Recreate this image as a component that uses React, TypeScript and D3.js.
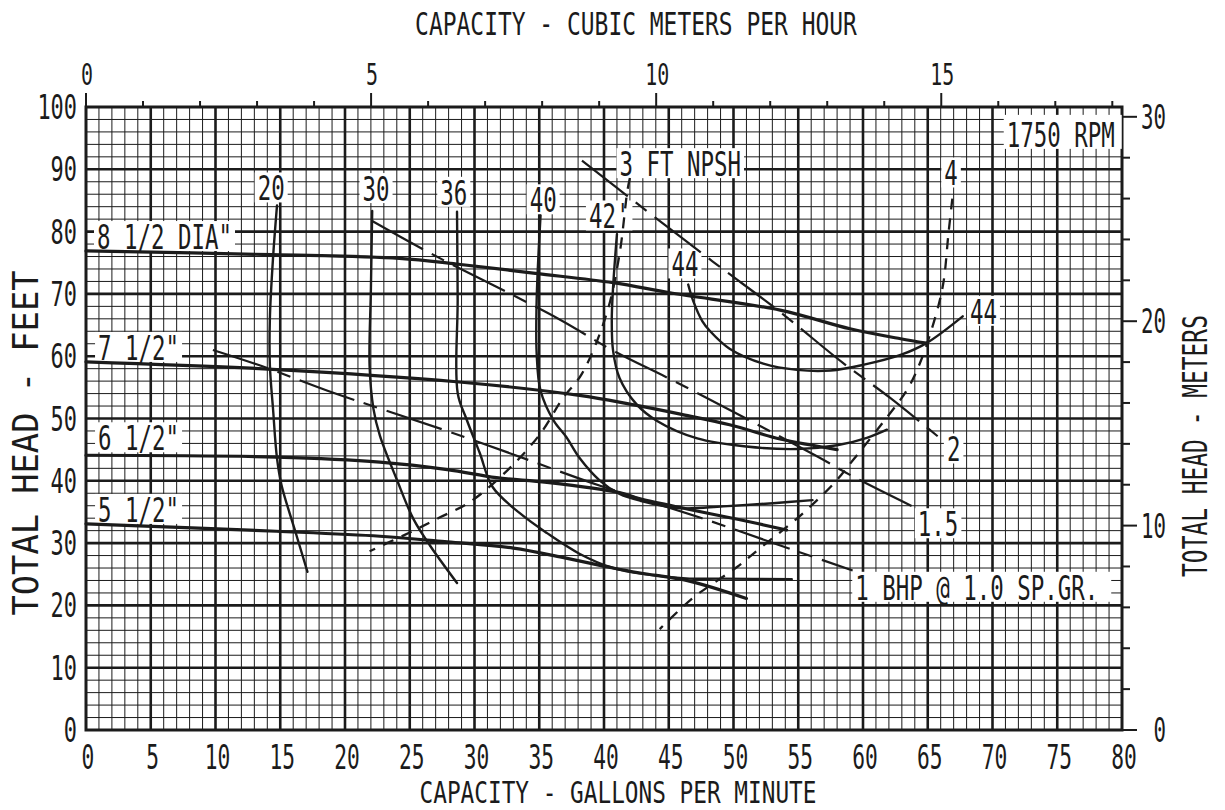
import * as d3 from "d3";

type Pt = [number, number];

// ── Axis tick labels ────────────────────────────────────────────────
const gpmTicks = [0, 5, 10, 15, 20, 25, 30, 35, 40, 45, 50, 55, 60, 65, 70, 75, 80];
const feetTicks = [0, 10, 20, 30, 40, 50, 60, 70, 80, 90, 100];
const meterTicks = [0, 10, 20, 30];
const m3hTicks = [0, 5, 10, 15];

// ── Head-capacity curves: [GPM, head ft] ────────────────────────────
const dia85: Pt[] = [[0, 76.9], [14.4, 76.3], [24.2, 75.7], [28.6, 74.8], [34.7, 73.3], [40.7, 71.8], [45.3, 70.1], [53.6, 67.4], [59.0, 64.4], [62.9, 62.8], [64.9, 62.1]];
const dia75: Pt[] = [[0, 59.1], [14.4, 57.9], [28.6, 55.9], [38.1, 53.7], [42.0, 52.3], [45.9, 50.7], [49.7, 49.0], [53.6, 46.7], [56.1, 45.7], [58.0, 45.0]];
const dia65: Pt[] = [[0, 44.1], [14.7, 43.8], [22.7, 43.0], [27.9, 41.8], [31.7, 40.5], [35.6, 39.75], [41.2, 38.1], [42.8, 37.1], [46.6, 35.4], [50.5, 33.75], [54.1, 32.1]];
const dia55: Pt[] = [[0, 33.1], [14.7, 31.9], [22.7, 31.1], [27.9, 30.2], [33.0, 29.2], [36.8, 27.7], [40.7, 26.0], [42.8, 25.2], [46.6, 23.9], [51.0, 21.1]];

// ── Efficiency contours (%) ─────────────────────────────────────────
const eff20: Pt[] = [[14.75, 84.2], [14.44, 75.7], [14.2, 66.1], [14.2, 58.5], [14.44, 51.6], [14.75, 43.6], [15.1, 39.3], [16.1, 32.3], [17.1, 25.4]];
const eff30: Pt[] = [[22.1, 83.3], [22.0, 70.8], [21.9, 58.4], [22.2, 51.5], [22.7, 47.2], [24.0, 40.2], [25.3, 33.8], [26.6, 29.5], [28.65, 23.6]];
const eff36: Pt[] = [[28.65, 83.2], [28.7, 69.1], [28.7, 54.1], [29.4, 49.8], [30.4, 44.5], [31.4, 39.0], [33.5, 34.8], [35.6, 31.6], [38.1, 28.3], [40.7, 26.0], [43.6, 24.9], [46.6, 24.3], [49.0, 24.3], [54.5, 24.2]];
const eff40: Pt[] = [[35.1, 82.6], [34.8, 69.0], [34.8, 60.5], [35.1, 54.5], [36.1, 49.7], [37.1, 47.0], [38.1, 43.7], [39.7, 40.0], [41.2, 37.9], [42.8, 36.8], [45.9, 35.6], [49.2, 35.9], [53.05, 36.4], [56.1, 36.9]];
const eff42: Pt[] = [[41.0, 79.6], [40.7, 71.0], [40.6, 65.7], [40.7, 60.9], [41.2, 56.5], [42.5, 52.3], [44.1, 49.6], [47.2, 46.8], [51.0, 45.5], [54.9, 45.1], [58.0, 45.7], [60.3, 46.9], [61.85, 48.2]];
const eff44: Pt[] = [[46.5, 71.5], [46.9, 68.8], [47.6, 65.6], [48.2, 64.0], [49.7, 61.2], [52.3, 58.8], [54.9, 57.8], [57.5, 57.7], [60.0, 58.6], [62.9, 60.2], [64.9, 62.1], [67.7, 66.4]];

// ── Brake horsepower lines ──────────────────────────────────────────
const bhp2: Pt[] = [[38.3, 91.4], [42.5, 84.6], [48.4, 75.2], [53.6, 67.1], [58.4, 59.0], [62.1, 53.3], [66.2, 46.4]];
const bhp15: Pt[] = [[22.1, 81.7], [26.8, 76.3], [36.4, 66.1], [40.7, 60.9], [45.7, 55.7], [56.3, 44.1], [59.4, 40.5], [64.4, 35.3]];
const bhp1: Pt[] = [[9.8, 61.0], [14.0, 58.1], [18.6, 54.5], [27.6, 48.2], [32.5, 44.6], [39.7, 39.2], [47.4, 34.1], [54.6, 28.9], [59.2, 25.6]];

// ── NPSH required lines ─────────────────────────────────────────────
const npsh3: Pt[] = [[42.0, 88.6], [41.8, 86.5], [41.2, 76.4], [40.2, 66.8], [38.3, 57.2], [36.8, 53.2], [35.1, 47.6], [32.7, 42.0], [29.65, 36.6], [27.3, 34.1], [25.0, 31.7], [21.9, 28.7]];
const npsh4: Pt[] = [[66.9, 85.3], [66.6, 79.7], [66.2, 71.7], [65.6, 66.4], [64.4, 58.9], [63.4, 54.6], [61.7, 49.8], [59.2, 43.25], [57.8, 39.7], [55.1, 34.3], [52.0, 29.1], [50.3, 26.2], [48.3, 23.35], [46.8, 21.1], [44.3, 16.2]];

// ── Curve labels, anchored at [GPM, ft] ─────────────────────────────
const labels: { text: string; gpm: number; ft: number; mid?: boolean; padR?: number; padT?: number }[] = [
  { text: '8 1/2 DIA"', gpm: 0.85, ft: 77.2 },
  { text: '7 1/2"', gpm: 0.93, ft: 59.4 },
  { text: '6 1/2"', gpm: 0.93, ft: 44.9 },
  { text: '5 1/2"', gpm: 0.93, ft: 33.4 },
  { text: "20", gpm: 14.3, ft: 85.0, mid: true },
  { text: "30", gpm: 22.4, ft: 84.9, mid: true },
  { text: "36", gpm: 28.4, ft: 84.3, mid: true },
  { text: "40", gpm: 35.3, ft: 83.1, mid: true },
  { text: "42'", gpm: 40.4, ft: 80.5, mid: true },
  { text: "44", gpm: 46.25, ft: 72.8, mid: true },
  { text: "44", gpm: 69.3, ft: 65.2, mid: true },
  { text: "3 FT NPSH", gpm: 41.2, ft: 88.9 },
  { text: "4", gpm: 66.8, ft: 87.4, mid: true },
  { text: "2", gpm: 67.0, ft: 43.1, mid: true },
  { text: "1.5", gpm: 65.8, ft: 31.1, mid: true },
  { text: "1 BHP @ 1.0 SP.GR.", gpm: 59.4, ft: 20.9, padR: 10 },
  { text: "1750 RPM", gpm: 71.1, ft: 93.6, padR: 4, padT: 8 },
];

const W = 1225;
const H = 810;
const INK = "#1b1b1b";
const FONT = "'DejaVu Sans Mono', 'Liberation Mono', monospace";
const ADV = 0.602; // DejaVu Sans Mono advance per em
const CHAR = 13.5; // plotter font is monospaced and very narrow

// narrow text: natural monospace glyphs squeezed horizontally
function Txt(p: { x: number; y: number; text: string; size?: number; mid?: boolean; end?: boolean; len?: number; rot?: boolean }) {
  const size = p.size ?? 33;
  const len = p.len ?? p.text.length * CHAR * (size / 33);
  const sx = len / (p.text.length * ADV * size);
  const tr = `translate(${p.x} ${p.y})${p.rot ? " rotate(-90)" : ""} scale(${sx.toFixed(4)} 1)`;
  return (
    <text
      transform={tr}
      fontSize={size}
      fontFamily={FONT}
      fill={INK}
      textAnchor={p.mid ? "middle" : p.end ? "end" : "start"}
    >
      {p.text}
    </text>
  );
}

export default function App() {
  const x = d3.scaleLinear().domain([0, 80]).range([86, 1122]);
  const y = d3.scaleLinear().domain([0, 100]).range([730, 107]);
  const xM = d3.scaleLinear().domain([0, 80 * 0.2271247]).range([86, 1122]);
  const yM = d3.scaleLinear().domain([0, 100 * 0.3048]).range([730, 107]);

  const smooth = d3.line<Pt>().x((d) => x(d[0])).y((d) => y(d[1])).curve(d3.curveCatmullRom.alpha(0.5));

  const vMinor = d3.range(0, 81).filter((v) => v % 5 !== 0);
  const hMinor = d3.range(0, 101, 2).filter((v) => v % 10 !== 0);
  const vMajor = d3.range(5, 80, 5);
  const hMajor = d3.range(10, 100, 10);
  const m3hMinor = d3.range(0, 19);
  const mMinor = d3.range(0, 31, 2);

  const hq = [dia85, dia75, dia65, dia55];
  const eff = [eff20, eff30, eff36, eff40, eff42, eff44];
  const bhp = [bhp2, bhp15, bhp1];
  const npsh = [npsh3, npsh4];

  const cap = 24;

  return (
    <div style={{ position: "absolute", left: 0, top: 0, width: W, height: H, background: "#fff" }}>
      <svg width={W} height={H} style={{ display: "block" }}>
        <rect width={W} height={H} fill="#fff" />

        {/* grid */}
        <g stroke={INK}>
          {vMinor.map((v) => (
            <line key={"vm" + v} x1={x(v)} x2={x(v)} y1={y(0)} y2={y(100)} strokeWidth={1} />
          ))}
          {hMinor.map((v) => (
            <line key={"hm" + v} x1={x(0)} x2={x(80)} y1={y(v)} y2={y(v)} strokeWidth={1} />
          ))}
          {vMajor.map((v) => (
            <line key={"vM" + v} x1={x(v)} x2={x(v)} y1={y(0)} y2={y(100)} strokeWidth={2.6} />
          ))}
          {hMajor.map((v) => (
            <line key={"hM" + v} x1={x(0)} x2={x(80)} y1={y(v)} y2={y(v)} strokeWidth={2.6} />
          ))}
          <rect x={x(0)} y={y(100)} width={x(80) - x(0)} height={y(0) - y(100)} fill="none" strokeWidth={3} />
          {m3hMinor.map((v) => (
            <line key={"tt" + v} x1={xM(v)} x2={xM(v)} y1={y(100)} y2={y(100) - (v % 5 === 0 ? 14 : 6)} strokeWidth={2} />
          ))}
          {mMinor.map((v) => (
            <line key={"rt" + v} x1={x(80)} x2={x(80) + (v % 10 === 0 ? 15 : 8)} y1={yM(v)} y2={yM(v)} strokeWidth={2} />
          ))}
        </g>

        {/* white label boxes knocking out the grid */}
        {labels.map((l, i) => {
          const len = l.text.length * CHAR;
          const px = x(l.gpm);
          const x0 = l.mid ? px - len / 2 : px;
          const top = y(l.ft) - cap - (l.padT ?? 4);
          return (
            <rect
              key={"b" + i}
              x={x0 - 3}
              y={top}
              width={len + 6 + (l.padR ?? 0)}
              height={y(l.ft) + 2 - top}
              fill="#fff"
            />
          );
        })}

        {/* curves */}
        <g fill="none" stroke={INK} strokeLinecap="round" strokeLinejoin="round">
          {npsh.map((d, i) => (
            <path key={"n" + i} d={smooth(d) ?? ""} strokeWidth={2.3} strokeDasharray="11 9" strokeLinecap="butt" />
          ))}
          {bhp.map((d, i) => (
            <path key={"p" + i} d={smooth(d) ?? ""} strokeWidth={2.2} strokeDasharray="58 10 14 10" strokeLinecap="butt" />
          ))}
          {eff.map((d, i) => (
            <path key={"e" + i} d={smooth(d) ?? ""} strokeWidth={2.4} />
          ))}
          {hq.map((d, i) => (
            <path key={"h" + i} d={smooth(d) ?? ""} strokeWidth={3.2} />
          ))}
        </g>

        {/* curve labels */}
        {labels.map((l, i) => (
          <Txt key={"t" + i} x={x(l.gpm)} y={y(l.ft)} text={l.text} mid={l.mid} />
        ))}

        {/* axis tick labels */}
        {gpmTicks.map((v) => (
          <Txt key={"gx" + v} x={x(v) + 2} y={769} text={String(v)} size={33} mid len={String(v).length * 12.8} />
        ))}
        {feetTicks.map((v) => (
          <Txt key={"fy" + v} x={77} y={y(v) + 12} text={String(v)} size={34} end len={String(v).length * 13.2} />
        ))}
        {meterTicks.map((v) => (
          <Txt key={"my" + v} x={1166} y={yM(v) + 12} text={String(v)} size={34} end len={String(v).length * 12.5} />
        ))}
        {m3hTicks.map((v) => (
          <Txt key={"mx" + v} x={xM(v) + 1} y={85} text={String(v)} size={31} mid len={String(v).length * 12} />
        ))}

        {/* axis titles */}
        <Txt x={636} y={35} text="CAPACITY - CUBIC METERS PER HOUR" size={32} mid len={442} />
        <Txt x={618} y={803} text="CAPACITY - GALLONS PER MINUTE" size={30} mid len={397} />
        <Txt x={38} y={443} text="TOTAL HEAD - FEET" size={35} mid len={345} rot />
        <Txt x={1207} y={446} text="TOTAL HEAD - METERS" size={34} mid len={262} rot />
      </svg>
    </div>
  );
}
